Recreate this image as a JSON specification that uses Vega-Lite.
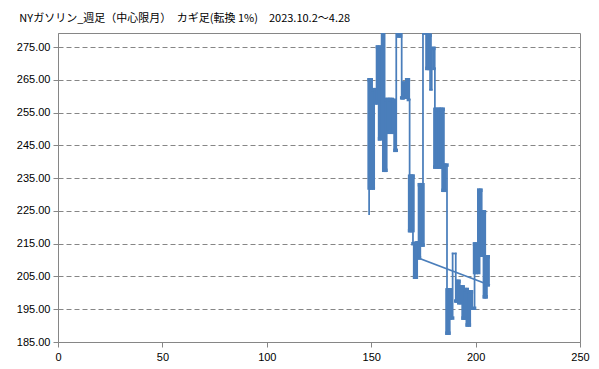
{
  "$schema": "https://vega.github.io/schema/vega-lite/v6.json",
  "autosize": {"type": "none"},
  "width": 522,
  "height": 309,
  "padding": {"left": 58, "top": 33, "right": 19, "bottom": 27},
  "background": "white",
  "title": {
    "text": "NYガソリン_週足（中心限月）　カギ足(転換 1%)　2023.10.2～4.28",
    "anchor": "start",
    "font": "Noto Sans CJK JP",
    "fontSize": 11,
    "fontWeight": "normal",
    "color": "#000000",
    "dx": 3,
    "offset": 9
  },
  "config": {
    "view": {"stroke": "#868686", "strokeWidth": 1},
    "axis": {
      "labelFont": "Liberation Sans",
      "labelFontSize": 11,
      "labelColor": "#000000",
      "domainColor": "#868686",
      "tickColor": "#868686",
      "gridColor": "#868686",
      "titleFont": "Liberation Sans"
    }
  },
  "data": {
    "values": [
      {"x":149,"y":224,"x2":149,"y2":232,"w":"t"},
      {"x":149,"y":232,"x2":149,"y2":265,"w":"T"},
      {"x":149,"y":265,"x2":150,"y2":265,"w":"T"},
      {"x":150,"y":265,"x2":150,"y2":232,"w":"T"},
      {"x":150,"y":232,"x2":151,"y2":232,"w":"T"},
      {"x":151,"y":232,"x2":151,"y2":262,"w":"T"},
      {"x":151,"y":262,"x2":152,"y2":262,"w":"T"},
      {"x":152,"y":262,"x2":152,"y2":258,"w":"T"},
      {"x":152,"y":258,"x2":153,"y2":258,"w":"T"},
      {"x":153,"y":258,"x2":153,"y2":275,"w":"T"},
      {"x":153,"y":275,"x2":154,"y2":275,"w":"T"},
      {"x":154,"y":275,"x2":154,"y2":247,"w":"T"},
      {"x":154,"y":247,"x2":155,"y2":247,"w":"T"},
      {"x":155,"y":247,"x2":155,"y2":281,"w":"t"},
      {"x":155,"y":281,"x2":156,"y2":281,"w":"t"},
      {"x":156,"y":281,"x2":156,"y2":237.4,"w":"T"},
      {"x":156,"y":237.4,"x2":157,"y2":237.4,"w":"T"},
      {"x":157,"y":237.4,"x2":157,"y2":259,"w":"T"},
      {"x":157,"y":259,"x2":158,"y2":259,"w":"T"},
      {"x":158,"y":259,"x2":158,"y2":249,"w":"T"},
      {"x":158,"y":249,"x2":159,"y2":249,"w":"T"},
      {"x":159,"y":249,"x2":159,"y2":259,"w":"T"},
      {"x":159,"y":259,"x2":160,"y2":259,"w":"T"},
      {"x":160,"y":259,"x2":160,"y2":249,"w":"T"},
      {"x":160,"y":249,"x2":160.7,"y2":249,"w":"T"},
      {"x":160.7,"y":249,"x2":160.7,"y2":258.7,"w":"T"},
      {"x":160.7,"y":258.7,"x2":161.4,"y2":258.7,"w":"T"},
      {"x":161.4,"y":258.7,"x2":161.4,"y2":243.5,"w":"T"},
      {"x":161.4,"y":243.5,"x2":162,"y2":243.5,"w":"T"},
      {"x":162,"y":243.5,"x2":162,"y2":281,"w":"t"},
      {"x":162,"y":281,"x2":163,"y2":281,"w":"T"},
      {"x":163,"y":281,"x2":163,"y2":278.4,"w":"T"},
      {"x":163,"y":278.4,"x2":164,"y2":278.4,"w":"T"},
      {"x":164,"y":278.4,"x2":164,"y2":281,"w":"T"},
      {"x":164,"y":281,"x2":164.6,"y2":281,"w":"T"},
      {"x":164.6,"y":281,"x2":164.6,"y2":259.5,"w":"t"},
      {"x":164.6,"y":259.5,"x2":165.2,"y2":259.5,"w":"T"},
      {"x":165.2,"y":259.5,"x2":165.2,"y2":264,"w":"T"},
      {"x":165.2,"y":264,"x2":166,"y2":264,"w":"T"},
      {"x":166,"y":264,"x2":166,"y2":259.7,"w":"T"},
      {"x":166,"y":259.7,"x2":167,"y2":259.7,"w":"t"},
      {"x":167,"y":259.7,"x2":167,"y2":265,"w":"T"},
      {"x":167,"y":265,"x2":167.8,"y2":265,"w":"T"},
      {"x":167.8,"y":265,"x2":167.8,"y2":259,"w":"T"},
      {"x":167.8,"y":259,"x2":168.4,"y2":259,"w":"t"},
      {"x":168.4,"y":259,"x2":168.4,"y2":235.6,"w":"t"},
      {"x":168.4,"y":235.6,"x2":168.4,"y2":219,"w":"T"},
      {"x":168.4,"y":219,"x2":169.2,"y2":219,"w":"T"},
      {"x":169.2,"y":219,"x2":169.2,"y2":235.6,"w":"T"},
      {"x":169.2,"y":235.6,"x2":170,"y2":235.6,"w":"T"},
      {"x":170,"y":235.6,"x2":170,"y2":219,"w":"T"},
      {"x":170,"y":219,"x2":170,"y2":215,"w":"t"},
      {"x":170,"y":215,"x2":170.8,"y2":215,"w":"T"},
      {"x":170.8,"y":215,"x2":170.8,"y2":204.8,"w":"T"},
      {"x":170.8,"y":204.8,"x2":171.6,"y2":204.8,"w":"T"},
      {"x":171.6,"y":204.8,"x2":171.6,"y2":215.2,"w":"T"},
      {"x":171.6,"y":215.2,"x2":172.3,"y2":215.2,"w":"T"},
      {"x":172.3,"y":215.2,"x2":172.3,"y2":210.7,"w":"T"},
      {"x":172.3,"y":210.7,"x2":173.1,"y2":210.7,"w":"T"},
      {"x":173.1,"y":210.7,"x2":173.1,"y2":233,"w":"T"},
      {"x":173.1,"y":233,"x2":174,"y2":233,"w":"T"},
      {"x":174,"y":233,"x2":174,"y2":214.6,"w":"T"},
      {"x":174,"y":214.6,"x2":174.8,"y2":214.6,"w":"T"},
      {"x":174.8,"y":214.6,"x2":174.8,"y2":233,"w":"T"},
      {"x":174.8,"y":233,"x2":174.8,"y2":279,"w":"t"},
      {"x":174.8,"y":279,"x2":176.7,"y2":279,"w":"t"},
      {"x":176.7,"y":279,"x2":176.7,"y2":268.5,"w":"T"},
      {"x":176.7,"y":268.5,"x2":177.5,"y2":268.5,"w":"T"},
      {"x":177.5,"y":268.5,"x2":177.5,"y2":278.6,"w":"T"},
      {"x":177.5,"y":278.6,"x2":178.2,"y2":278.6,"w":"T"},
      {"x":178.2,"y":278.6,"x2":178.2,"y2":268.5,"w":"T"},
      {"x":178.2,"y":268.5,"x2":178.2,"y2":262,"w":"t"},
      {"x":178.2,"y":262,"x2":179,"y2":262,"w":"t"},
      {"x":179,"y":262,"x2":179,"y2":274.6,"w":"t"},
      {"x":179,"y":274.6,"x2":180,"y2":274.6,"w":"T"},
      {"x":180,"y":274.6,"x2":180,"y2":268.5,"w":"T"},
      {"x":180,"y":268.5,"x2":180.5,"y2":268.5,"w":"t"},
      {"x":180.5,"y":268.5,"x2":180.5,"y2":256,"w":"t"},
      {"x":180.5,"y":256,"x2":180.5,"y2":238.4,"w":"T"},
      {"x":180.5,"y":238.4,"x2":181.5,"y2":238.4,"w":"T"},
      {"x":181.5,"y":238.4,"x2":181.5,"y2":256,"w":"T"},
      {"x":181.5,"y":256,"x2":182.5,"y2":256,"w":"T"},
      {"x":182.5,"y":256,"x2":182.5,"y2":238.4,"w":"T"},
      {"x":182.5,"y":238.4,"x2":183.5,"y2":238.4,"w":"T"},
      {"x":183.5,"y":238.4,"x2":183.5,"y2":256,"w":"T"},
      {"x":183.5,"y":256,"x2":184.4,"y2":256,"w":"T"},
      {"x":184.4,"y":256,"x2":184.4,"y2":231.3,"w":"T"},
      {"x":184.4,"y":231.3,"x2":185.3,"y2":231.3,"w":"T"},
      {"x":185.3,"y":231.3,"x2":185.3,"y2":239,"w":"T"},
      {"x":185.3,"y":239,"x2":186.3,"y2":239,"w":"T"},
      {"x":186.3,"y":239,"x2":186.3,"y2":200.9,"w":"t"},
      {"x":186.3,"y":200.9,"x2":186.3,"y2":187.7,"w":"T"},
      {"x":186.3,"y":187.7,"x2":187.2,"y2":187.7,"w":"T"},
      {"x":187.2,"y":187.7,"x2":187.2,"y2":200.9,"w":"T"},
      {"x":187.2,"y":200.9,"x2":188,"y2":200.9,"w":"T"},
      {"x":188,"y":200.9,"x2":188,"y2":192.3,"w":"T"},
      {"x":188,"y":192.3,"x2":189,"y2":192.3,"w":"T"},
      {"x":189,"y":192.3,"x2":189,"y2":212,"w":"t"},
      {"x":189,"y":212,"x2":190.5,"y2":212,"w":"t"},
      {"x":190.5,"y":212,"x2":190.5,"y2":197.5,"w":"t"},
      {"x":190.5,"y":197.5,"x2":191,"y2":197.5,"w":"T"},
      {"x":191,"y":197.5,"x2":191,"y2":203.5,"w":"T"},
      {"x":191,"y":203.5,"x2":192,"y2":203.5,"w":"T"},
      {"x":192,"y":203.5,"x2":192,"y2":197,"w":"T"},
      {"x":192,"y":197,"x2":193,"y2":197,"w":"T"},
      {"x":193,"y":197,"x2":193,"y2":201.8,"w":"T"},
      {"x":193,"y":201.8,"x2":194,"y2":201.8,"w":"T"},
      {"x":194,"y":201.8,"x2":194,"y2":192.3,"w":"T"},
      {"x":194,"y":192.3,"x2":195,"y2":192.3,"w":"T"},
      {"x":195,"y":192.3,"x2":195,"y2":201,"w":"T"},
      {"x":195,"y":201,"x2":196,"y2":201,"w":"T"},
      {"x":196,"y":201,"x2":196,"y2":190.2,"w":"T"},
      {"x":196,"y":190.2,"x2":197,"y2":190.2,"w":"T"},
      {"x":197,"y":190.2,"x2":197,"y2":200.3,"w":"T"},
      {"x":197,"y":200.3,"x2":198,"y2":200.3,"w":"T"},
      {"x":198,"y":200.3,"x2":198,"y2":195.3,"w":"T"},
      {"x":198,"y":195.3,"x2":199.5,"y2":195.3,"w":"T"},
      {"x":199.5,"y":195.3,"x2":199.5,"y2":206.2,"w":"t"},
      {"x":199.5,"y":206.2,"x2":199.5,"y2":214.9,"w":"T"},
      {"x":199.5,"y":214.9,"x2":200.3,"y2":214.9,"w":"T"},
      {"x":200.3,"y":214.9,"x2":200.3,"y2":206.2,"w":"T"},
      {"x":200.3,"y":206.2,"x2":201.5,"y2":206.2,"w":"t"},
      {"x":201.5,"y":206.2,"x2":201.5,"y2":231.3,"w":"T"},
      {"x":201.5,"y":231.3,"x2":202.5,"y2":231.3,"w":"T"},
      {"x":202.5,"y":231.3,"x2":202.5,"y2":211.5,"w":"T"},
      {"x":202.5,"y":211.5,"x2":203.3,"y2":211.5,"w":"T"},
      {"x":203.3,"y":211.5,"x2":203.3,"y2":224.7,"w":"T"},
      {"x":203.3,"y":224.7,"x2":204.2,"y2":224.7,"w":"T"},
      {"x":204.2,"y":224.7,"x2":204.2,"y2":198.8,"w":"T"},
      {"x":204.2,"y":198.8,"x2":205,"y2":198.8,"w":"T"},
      {"x":205,"y":198.8,"x2":205,"y2":211,"w":"T"},
      {"x":205,"y":211,"x2":206,"y2":211,"w":"T"},
      {"x":206,"y":211,"x2":206,"y2":202.4,"w":"T"},
      {"x":172.3,"y":210.7,"x2":206.5,"y2":202.4,"w":"t"}
    ]
  },
  "mark": {"type": "rule", "color": "#4A7EBB", "strokeCap": "square", "clip": true},
  "encoding": {
    "x": {
      "field": "x", "type": "quantitative",
      "scale": {"domain": [0, 250], "nice": false, "zero": false},
      "axis": {"title": null, "values": [0, 50, 100, 150, 200, 250], "grid": false, "tickSize": 5, "labelPadding": 4, "labelFlush": false}
    },
    "x2": {"field": "x2"},
    "y": {
      "field": "y", "type": "quantitative",
      "scale": {"domain": [185, 279.3], "nice": false, "zero": false},
      "axis": {"title": null, "values": [185, 195, 205, 215, 225, 235, 245, 255, 265, 275], "format": ".2f", "grid": true, "gridDash": [5, 3], "tickSize": 5, "labelPadding": 3}
    },
    "y2": {"field": "y2"},
    "size": {
      "field": "w", "type": "nominal",
      "scale": {"domain": ["T", "t"], "range": [3.5, 1.75]},
      "legend": null
    }
  }
}
